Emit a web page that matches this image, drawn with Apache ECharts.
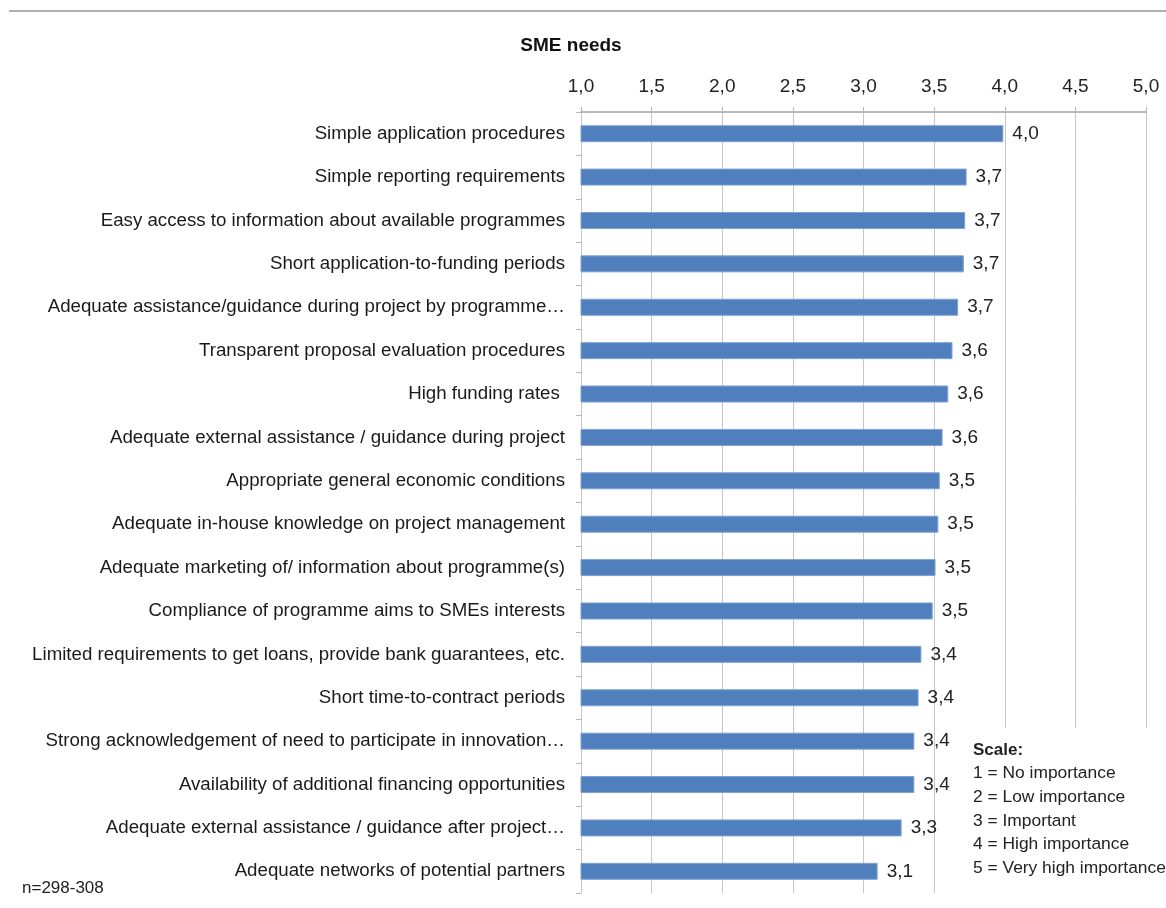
<!DOCTYPE html>
<html>
<head>
<meta charset="utf-8">
<script src="https://cdn.jsdelivr.net/npm/echarts@6/dist/echarts.min.js"></script>
<style>
  html, body { margin: 0; padding: 0; background: #fff; }
  #chart { width: 1166px; height: 908px; }
</style>
</head>
<body>
<div id="chart"></div>
<script>
// Survey items, top to bottom
const categories = [
  'Simple application procedures',
  'Simple reporting requirements',
  'Easy access to information about available programmes',
  'Short application-to-funding periods',
  'Adequate assistance/guidance during project by programme\u2026',
  'Transparent proposal evaluation procedures',
  'High funding rates ',
  'Adequate external assistance / guidance during project',
  'Appropriate general economic conditions',
  'Adequate in-house knowledge on project management',
  'Adequate marketing of/ information about programme(s)',
  'Compliance of programme aims to SMEs interests',
  'Limited requirements to get loans, provide bank guarantees, etc.',
  'Short time-to-contract periods',
  'Strong acknowledgement of need to participate in innovation\u2026',
  'Availability of additional financing opportunities',
  'Adequate external assistance / guidance after project\u2026',
  'Adequate networks of potential partners'
];

// Mean importance score (1-5 scale)
const meanScores = [
  3.99, 3.73, 3.72, 3.71, 3.67, 3.63, 3.60, 3.56, 3.54,
  3.53, 3.51, 3.49, 3.41, 3.39, 3.36, 3.36, 3.27, 3.10
];

const axisTicks = [1.0, 1.5, 2.0, 2.5, 3.0, 3.5, 4.0, 4.5, 5.0];

const scaleLegend = [
  '1 = No importance',
  '2 = Low importance',
  '3 = Important',
  '4 = High importance',
  '5 = Very high importance'
];

const sampleNote = 'n=298-308';

const FONT = '"Liberation Sans", Arial, sans-serif';
const comma = v => v.toFixed(1).replace('.', ',');

const chart = echarts.init(document.getElementById('chart'));

// Scale key sits in an opaque box over the lower right of the plot
const legendBox = {
  type: 'rect', z: 10,
  shape: { x: 958, y: 728, width: 208, height: 180 },
  style: { fill: '#fff' }
};
const legendTexts = [{
  type: 'text', left: 973, top: 742, z: 11,
  style: { text: 'Scale:', font: 'bold 17px ' + FONT, fill: '#222' }
}].concat(scaleLegend.map((t, i) => ({
  type: 'text', left: 973, top: 765 + i * 23.7, z: 11,
  style: { text: t, font: '17.4px ' + FONT, fill: '#222' }
})));

chart.setOption({
  animation: false,
  backgroundColor: '#fff',
  title: {
    text: 'SME needs',
    left: 566, top: 31, textAlign: 'center',
    textStyle: { fontFamily: FONT, fontWeight: 'bold', fontSize: 19, color: '#111' }
  },
  grid: { left: 581, right: 20, top: 112, bottom: 15, containLabel: false },
  xAxis: {
    type: 'value',
    position: 'top',
    min: axisTicks[0],
    max: axisTicks[axisTicks.length - 1],
    interval: axisTicks[1] - axisTicks[0],
    axisLine: { show: true, lineStyle: { color: '#b8b8b8', width: 2 } },
    axisTick: { show: true, length: 5, lineStyle: { color: '#b8b8b8' } },
    axisLabel: {
      margin: 16, fontFamily: FONT, fontSize: 19, color: '#222',
      formatter: v => comma(v)
    },
    splitLine: { show: true, lineStyle: { color: '#c6c6c6', width: 1 } }
  },
  yAxis: {
    type: 'category',
    inverse: true,
    data: categories,
    axisLine: { show: true, lineStyle: { color: '#c6c6c6' } },
    axisTick: { show: true, length: 5, lineStyle: { color: '#b8b8b8' } },
    axisLabel: { margin: 16, fontFamily: FONT, fontSize: 18.7, color: '#1a1a1a' }
  },
  series: [{
    type: 'bar',
    data: meanScores,
    barWidth: 17,
    itemStyle: { color: '#4f80bd', borderColor: '#7ea3d3', borderWidth: 1 },
    label: {
      show: true, position: 'right', distance: 9,
      fontFamily: FONT, fontSize: 19, color: '#222',
      formatter: p => comma(p.value)
    }
  }],
  graphic: [
    {
      type: 'line', shape: { x1: 9, y1: 11, x2: 1166, y2: 11 },
      style: { stroke: '#b0b0b0', lineWidth: 2 }
    },
    {
      type: 'text', left: 22, top: 880,
      style: { text: sampleNote, font: '17px ' + FONT, fill: '#222' }
    },
    legendBox
  ].concat(legendTexts)
});
</script>
</body>
</html>
